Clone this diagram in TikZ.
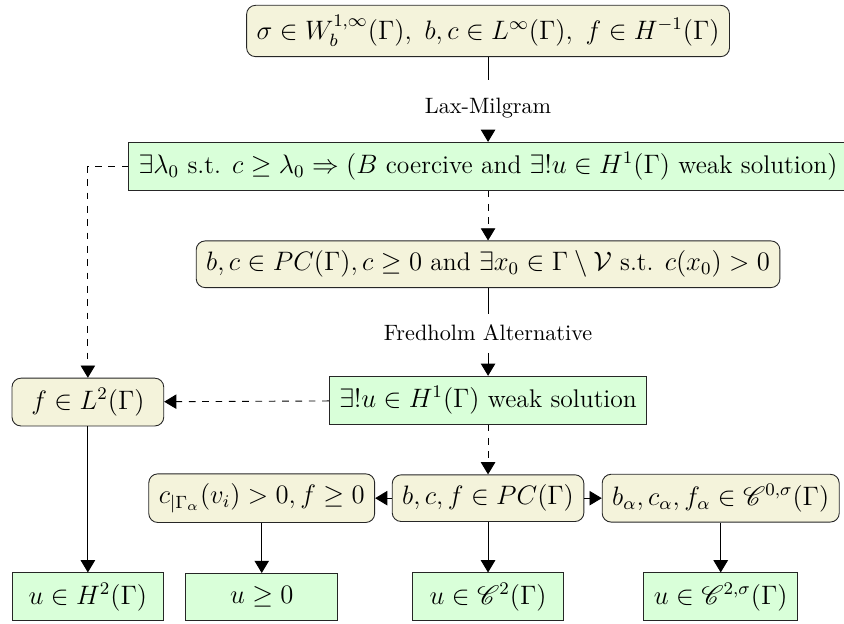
\documentclass[tikz,border=0pt]{standalone}
\usepackage{amsmath}
\usepackage{amssymb}
\usepackage{mathrsfs}
\usepackage{xcolor}
\usepackage{tikz}
\usetikzlibrary{arrows.meta, positioning, calc}
\tikzset{
    hyp/.style={draw=black!85, fill=olive!10, rounded corners=4pt, inner sep=4.5pt, minimum height=21pt,
        font=\fontsize{11.5}{14}\selectfont},
    res/.style={draw=black!85, fill=green!15, inner sep=4.5pt, minimum height=21pt,
        font=\fontsize{11.5}{14}\selectfont},
    thm/.style={inner sep=5pt},
    % arrow tip used for every connector
    tip/.style={-{Triangle[length=5.5pt, width=6.5pt]}},
}

\begin{document}
\begin{tikzpicture}
    \useasboundingbox (0,0) rectangle (13.35,9.87);

    \node[hyp] (data) at (7.72,9.38) {$\sigma\in W^{1,\infty}_b(\Gamma),\ b,c\in L^\infty(\Gamma),\ f\in H^{-1}(\Gamma)$};
    \node[thm, inner sep=8pt] (lax) at (7.72,8.16) {Lax-Milgram};
    \node[res] (coer) at (7.72,7.24) {$\exists\lambda_0$ s.t. $c\geq\lambda_0\Rightarrow(B$ coercive and $\exists!u\in H^1(\Gamma)$ weak solution$)$};

    \node[hyp] (pc) at (7.72,5.69) {$b,c\in PC(\Gamma), c\geq 0$ and $\exists x_0\in\Gamma\setminus\mathcal{V}$ s.t. $c(x_0)>0$};
    \node[thm, inner sep=5pt] (fred) at (7.72,4.60) {Fredholm Alternative};
    \node[res] (weak) at (7.72,3.54) {$\exists!u\in H^1(\Gamma)$ weak solution};

    \node[hyp, minimum width=2.4cm] (ltwo) at (1.39,3.51) {$f\in L^2(\Gamma)$};

    \node[hyp] (pcf) at (7.72,1.99) {$b,c,f\in PC(\Gamma)$};
    \node[hyp] (pos) at (4.14,1.99) {$c_{|\Gamma_\alpha}(v_i)>0, f\geq 0$};
    \node[hyp] (hol) at (11.40,1.99) {$b_\alpha,c_\alpha,f_\alpha\in\mathscr{C}^{0,\sigma}(\Gamma)$};

    \node[res, minimum width=2.4cm] (htwo) at (1.39,0.43) {$u\in H^2(\Gamma)$};
    \node[res, minimum width=2.4cm] (upos) at (4.14,0.43) {$u\geq 0$};
    \node[res, minimum width=2.4cm] (ctwo) at (7.72,0.43) {$u\in\mathscr{C}^2(\Gamma)$};
    \node[res, minimum width=2.4cm] (ctwos) at (11.40,0.43) {$u\in\mathscr{C}^{2,\sigma}(\Gamma)$};

    \draw (data) -- (lax);
    \draw[tip] (lax) -- (coer);
    \draw[tip, dashed] (coer) -- (pc);
    \draw[tip, dashed] (coer.west) -- (coer.west -| ltwo) -- (ltwo);
    \draw (pc) -- (fred);
    \draw[tip] (fred) -- (weak);
    \draw[tip, dashed] (weak) -- (ltwo);
    \draw[tip, dashed] (weak) -- (pcf);
    \draw[tip] (pcf) -- (pos);
    \draw[tip] (pcf) -- (hol);

    \draw[tip] (ltwo) -- (htwo);
    \draw[tip] (pos) -- (upos);
    \draw[tip] (pcf) -- (ctwo);
    \draw[tip] (hol) -- (ctwos);
\end{tikzpicture}
\end{document}
